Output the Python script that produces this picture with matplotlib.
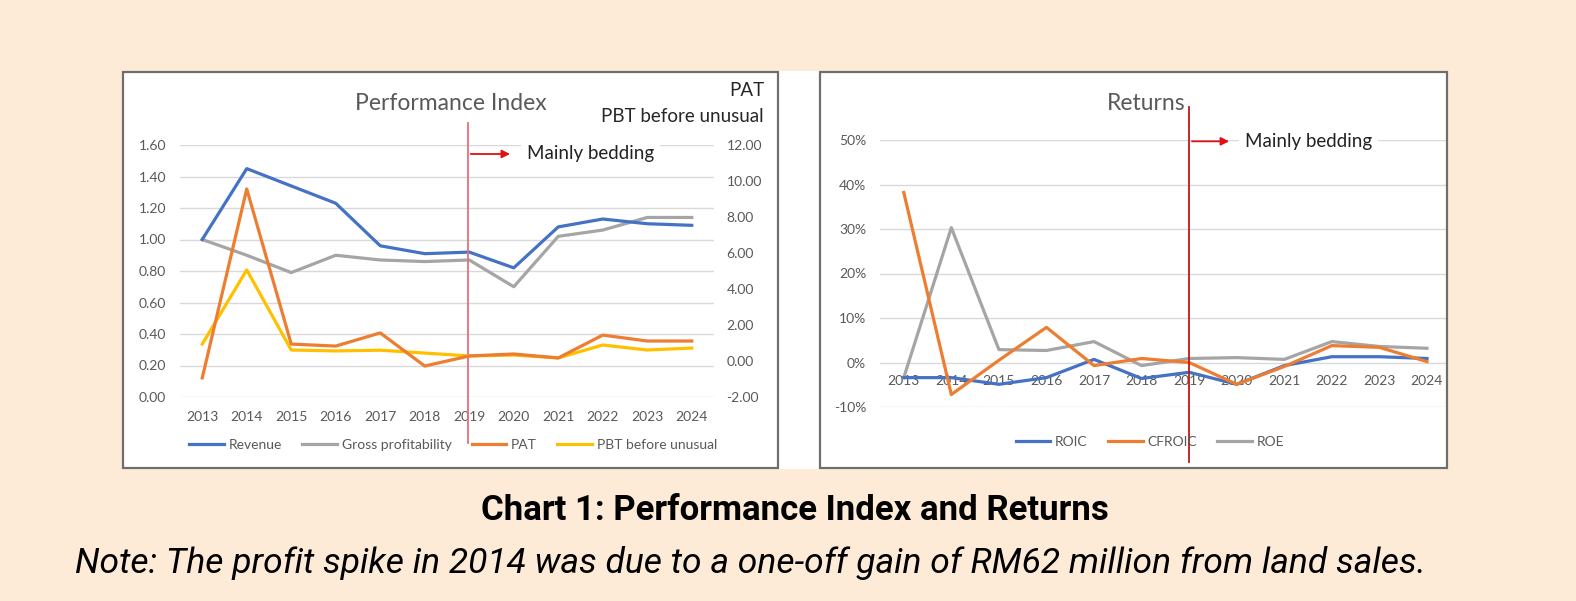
import matplotlib
matplotlib.use("Agg")
import matplotlib.pyplot as plt
from matplotlib.patches import Rectangle
from matplotlib.ticker import FuncFormatter

years = [str(y) for y in range(2013, 2025)]

# Performance index (left axis)
revenue = [1.00, 1.45, 1.34, 1.23, 0.96, 0.91, 0.92, 0.82, 1.08, 1.13, 1.10, 1.09]
gross_prof = [1.00, 0.90, 0.79, 0.90, 0.87, 0.86, 0.87, 0.70, 1.02, 1.06, 1.14, 1.14]
# right axis
pat = [-0.94, 9.56, 0.94, 0.83, 1.56, -0.28, 0.28, 0.39, 0.17, 1.44, 1.11, 1.11]
pbt_unusual = [0.94, 5.06, 0.61, 0.56, 0.60, 0.44, 0.28, 0.33, 0.17, 0.89, 0.61, 0.72]

# Returns (%)
roic = [-3.4, -3.4, -4.9, -3.4, 0.7, -3.6, -2.2, -4.9, -0.7, 1.3, 1.3, 0.9]
cfroic = [38.2, -7.2, 0.5, 7.9, -0.7, 0.9, 0.0, -4.9, -0.9, 3.8, 3.4, 0.2]
roe = [-3.4, 30.3, 2.9, 2.7, 4.7, -0.7, 0.9, 1.1, 0.7, 4.7, 3.6, 3.2]

BLUE, ORANGE, GRAY, YELLOW = "#4472C4", "#ED7D31", "#A5A5A5", "#FFC000"
GRID = "#D9D9D9"
TXT = "#595959"
W, H = 1576, 601

plt.rcParams["font.family"] = ["Lato", "DejaVu Sans"]

fig = plt.figure(figsize=(W / 100, H / 100), dpi=100)
fig.patch.set_facecolor("#FDEBD7")


def fx(px):
    return px / W


def fy(py):
    return 1 - py / H


# white picture area and panel frames
fig.add_artist(Rectangle((fx(123), fy(469)), fx(1447 - 123), (469 - 71) / H,
                         transform=fig.transFigure, facecolor="white", edgecolor="none", zorder=0))
for x0, x1 in [(123, 778), (820, 1447)]:
    fig.add_artist(Rectangle((fx(x0), fy(468)), fx(x1 - x0), (468 - 72) / H,
                             transform=fig.transFigure, facecolor="none", edgecolor="#6E6E6E",
                             lw=1.6, zorder=1))


def style(ax):
    ax.set_facecolor("none")
    for s in ax.spines.values():
        s.set_visible(False)
    ax.tick_params(length=0, labelsize=10, labelcolor=TXT)
    ax.grid(axis="y", color=GRID, lw=1)
    ax.set_axisbelow(True)


x = list(range(len(years)))
leg_kw = dict(frameon=False, fontsize=10, labelcolor=TXT, handlelength=2.5,
              handletextpad=0.35, columnspacing=1.45)

# ---------- Performance Index ----------
ax1 = fig.add_axes([fx(180), fy(397), fx(534), 252 / H])
style(ax1)
ax1.plot(x, revenue, color=BLUE, lw=2.3, label="Revenue", zorder=3)
ax1.plot(x, gross_prof, color=GRAY, lw=2.3, label="Gross profitability", zorder=2)
ax1.set_ylim(0, 1.6)
ax1.set_yticks([i * 0.2 for i in range(9)])
ax1.yaxis.set_major_formatter(FuncFormatter(lambda v, p: f"{v:.2f}"))
ax1.set_xlim(-0.5, 11.5)
ax1.set_xticks(x)
ax1.set_xticklabels(years)
ax1.tick_params(axis="x", pad=10)
ax1.tick_params(axis="y", pad=10)

ax1b = ax1.twinx()
style(ax1b)
ax1b.grid(False)
ax1b.plot(x, pat, color=ORANGE, lw=2.3, label="PAT", zorder=3)
ax1b.plot(x, pbt_unusual, color=YELLOW, lw=2.3, label="PBT before unusual", zorder=2)
ax1b.set_ylim(-2, 12)
ax1b.set_yticks(range(-2, 13, 2))
ax1b.yaxis.set_major_formatter(FuncFormatter(lambda v, p: f"{v:.2f}"))
ax1b.tick_params(axis="y", pad=9)

ax1.axvline(5.97, ymin=(397 - 443) / 252, ymax=(397 - 123) / 252, color="#E4707A",
            lw=1.3, clip_on=False, zorder=5)
ax1.annotate("", xy=(6.98, 1.543), xytext=(5.97, 1.543),
             arrowprops=dict(arrowstyle="-|>", color="#E01010", lw=1.3, mutation_scale=12),
             zorder=6)
ax1.text(7.3, 1.543, "Mainly bedding", fontsize=13.5, color="#222222", va="center", ha="left",
         bbox=dict(facecolor="white", edgecolor="none", pad=4), zorder=6)

fig.text(fx(451), fy(103), "Performance Index", fontsize=16.5, color=TXT, ha="center", va="center")
fig.text(fx(764), fy(91), "PAT", fontsize=13.5, color="#262626", ha="right", va="center")
fig.text(fx(764), fy(116), "PBT before unusual", fontsize=13.5, color="#262626", ha="right", va="center")

h1, l1 = ax1.get_legend_handles_labels()
h2, l2 = ax1b.get_legend_handles_labels()
fig.legend(h1 + h2, l1 + l2, loc="center", bbox_to_anchor=(fx(453), fy(445)), ncol=4, **leg_kw)

# ---------- Returns ----------
ax2 = fig.add_axes([fx(880), fy(407), fx(566), 267 / H])
style(ax2)
ax2.plot(x, roic, color=BLUE, lw=2.3, label="ROIC", zorder=3)
ax2.plot(x, cfroic, color=ORANGE, lw=2.3, label="CFROIC", zorder=3)
ax2.plot(x, roe, color=GRAY, lw=2.3, label="ROE", zorder=2)
ax2.set_ylim(-10, 50)
ax2.set_yticks(range(-10, 51, 10))
ax2.yaxis.set_major_formatter(FuncFormatter(lambda v, p: f"{v:.0f}%"))
ax2.set_xlim(-0.5, 11.4)
ax2.set_xticks(x)
ax2.set_xticklabels(years)
ax2.spines["bottom"].set_position(("data", 0))
ax2.tick_params(axis="x", pad=9)
ax2.tick_params(axis="y", pad=10)

ax2.axvline(6.0, ymin=(407 - 462) / 267, ymax=(407 - 107) / 267, color="#C01818",
            lw=1.3, clip_on=False, zorder=5)
ax2.annotate("", xy=(6.9, 49.7), xytext=(6.0, 49.7),
             arrowprops=dict(arrowstyle="-|>", color="#E01010", lw=1.3, mutation_scale=12),
             zorder=6, annotation_clip=False)
ax2.text(7.17, 49.7, "Mainly bedding", fontsize=13.5, color="#222222", va="center", ha="left",
         bbox=dict(facecolor="white", edgecolor="none", pad=4), zorder=6)

fig.text(fx(1146), fy(103), "Returns", fontsize=16.5, color=TXT, ha="center", va="center")

fig.legend(*ax2.get_legend_handles_labels(), loc="center", bbox_to_anchor=(fx(1150), fy(442)),
           ncol=3, **leg_kw)

# ---------- captions ----------
fig.text(fx(795), fy(511), "Chart 1: Performance Index and Returns", fontsize=25,
         fontweight="bold", family=["Roboto", "DejaVu Sans"], ha="center", va="center", color="black")
fig.text(fx(75), fy(563), "Note: The profit spike in 2014 was due to a one-off gain of RM62 million from land sales.",
         fontsize=25.5, style="italic", family=["Roboto", "DejaVu Sans"], ha="left", va="center", color="black")

fig.savefig("out.png", dpi=100, facecolor=fig.get_facecolor())
